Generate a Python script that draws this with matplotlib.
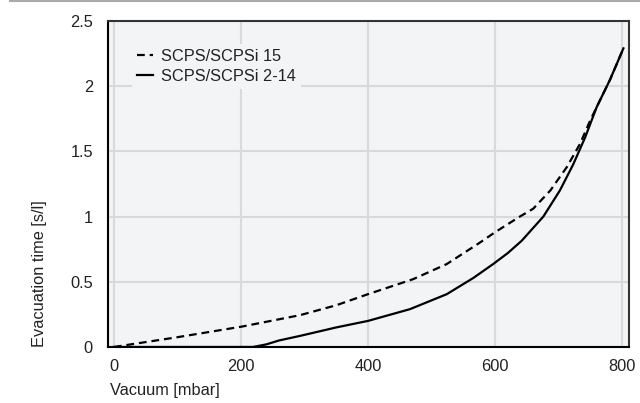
import matplotlib.pyplot as plt
from matplotlib.lines import Line2D

plt.rcParams['font.family'] = ['Liberation Sans', 'DejaVu Sans']

# SCPS/SCPSi 15 (dashed)
vac_15 = [0, 100, 201, 293, 350, 400, 471, 524, 576, 600, 639, 660, 687,
          713, 734, 750, 765, 781, 802]
time_15 = [0.0, 0.075, 0.156, 0.244, 0.32, 0.405, 0.52, 0.636, 0.80, 0.88,
           1.0, 1.06, 1.2, 1.38, 1.56, 1.74, 1.89, 2.05, 2.29]

# SCPS/SCPSi 2-14 (solid)
vac_214 = [0, 100, 219, 240, 260, 293, 350, 400, 466, 524, 566, 597, 620,
           642, 676, 702, 723, 742, 760, 781, 802]
time_214 = [0.0, 0.0, 0.0, 0.02, 0.05, 0.085, 0.15, 0.2, 0.29, 0.405, 0.53,
            0.636, 0.72, 0.815, 1.0, 1.2, 1.4, 1.61, 1.84, 2.05, 2.29]

xticks = [0, 200, 400, 600, 800]
yticks = [0, 0.5, 1, 1.5, 2, 2.5]
ytick_labels = ['0', '0.5', '1', '1.5', '2', '2.5']

fs = 11.8
txt = '#222222'

fig = plt.figure(figsize=(6.4, 4.03), dpi=100)
ax = fig.add_axes([0.169, 0.139, 0.814, 0.809])
ax.set_facecolor('#f3f4f6')

ax.plot(vac_15, time_15, color='black', lw=1.6, ls=(0, (3.5, 2.2)),
        label='SCPS/SCPSi 15')
ax.plot(vac_214, time_214, color='black', lw=1.6, label='SCPS/SCPSi 2-14')

ax.set_xlim(-9, 811)
ax.set_ylim(0, 2.5)
ax.set_xticks(xticks)
ax.set_yticks(yticks)
ax.set_yticklabels(ytick_labels)
ax.tick_params(length=0, labelsize=fs, colors=txt)
ax.tick_params(axis='y', pad=11)
ax.tick_params(axis='x', pad=9)
ax.grid(True, color='#d9d9d9', lw=1.5)
ax.set_axisbelow(True)

for side in ['top', 'right']:
    ax.spines[side].set_color('#333333')
    ax.spines[side].set_linewidth(1.5)
for side in ['left', 'bottom']:
    ax.spines[side].set_color('black')
    ax.spines[side].set_linewidth(1.5)

ax.set_xlabel('Vacuum [mbar]', fontsize=fs, loc='left', color=txt)
ax.set_ylabel('Evacuation time [s/l]', fontsize=fs, loc='bottom', color=txt)
ax.xaxis.set_label_coords(0.003, -0.11)
ax.yaxis.set_label_coords(-0.117, 0.0)

leg = ax.legend(loc='upper left', bbox_to_anchor=(0.03, 0.955), frameon=True,
                fontsize=fs, handlelength=1.0, handletextpad=0.5,
                labelspacing=0.3, borderpad=0.3, fancybox=False)
leg.get_frame().set_facecolor('#f3f4f6')
leg.get_frame().set_edgecolor('none')
leg.get_frame().set_alpha(1)
for t in leg.get_texts():
    t.set_color(txt)

# thin gray rule across the top
fig.add_artist(Line2D([0.015, 1.0], [0.998, 0.998], color='#aaaaaa', lw=1.5,
                      transform=fig.transFigure))

fig.savefig('out.png', dpi=100)
plt.close(fig)
